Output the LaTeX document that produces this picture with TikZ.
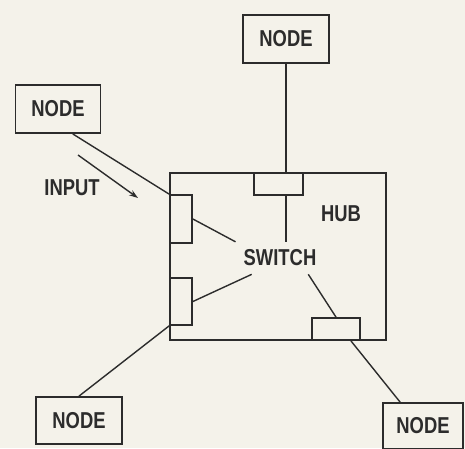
\documentclass[tikz,border=0pt]{standalone}
\usepackage{fontspec}
\setmainfont{Liberation Sans}[FakeStretch=0.8]
\usetikzlibrary{arrows.meta,positioning,calc}
\definecolor{PaperBg}{HTML}{F4F2EA}
\definecolor{InkGray}{HTML}{2C2C2C}
\tikzset{
  NB/.style={rectangle,draw=InkGray,line width=1.8pt,
             minimum width=86pt,minimum height=48pt,
             text=InkGray,font=\fontsize{23}{25}\selectfont\bfseries},
  port/.style={rectangle,draw=InkGray,line width=1.8pt,inner sep=0pt},
  lnk/.style={draw=InkGray,line width=1.4pt},
  arr/.style={-{Stealth[length=9pt,width=6pt]},draw=InkGray,line width=1.4pt}
}
\begin{document}
\begin{tikzpicture}[x=1pt,y=-1pt,
  every node/.style={font=\fontsize{23}{25}\selectfont\bfseries,text=InkGray}]
  \fill[PaperBg] (0,0) rectangle (465,448);
  \useasboundingbox (0,0) rectangle (465,448);

  % hub and its ports
  \node[rectangle,draw=InkGray,line width=1.8pt,minimum width=216pt,minimum height=167pt] (hub) at (278,256.5) {};
  \node[port,minimum width=49pt,minimum height=22pt] (ptop) at (278.5,184) {};
  \node[port,minimum width=22pt,minimum height=48pt] (pl1) at (181,219) {};
  \node[port,minimum width=22pt,minimum height=47pt] (pl2) at (181,301.5) {};
  \node[port,minimum width=48pt,minimum height=22pt] (pbr) at (336,329) {};
  \node[inner xsep=8pt,inner ysep=8pt] (sw) at (280,258) {SWITCH};
  \node (hublbl) at (341,214) {HUB};

  % outer nodes
  \node[NB] (ntop) at (286,39) {NODE};
  \node[NB,minimum width=85pt] (nleft) at (58,109) {NODE};
  \node[NB,minimum height=47pt] (nbl) at (79,420.5) {NODE};
  \node[NB,minimum width=80pt,minimum height=46pt] (nbr) at (423,426) {NODE};
  \node (inlbl) at (72,188) {INPUT};
  \coordinate (inA) at (78,155);
  \coordinate (inB) at (138,198);

  \draw[lnk] (ntop.south) -- (ntop.south |- ptop.north);
  \draw[lnk] (ptop.south -| ntop.south) -- (sw.north -| ntop.south);
  \draw[lnk] ($(nleft.south west)!0.67!(nleft.south east)$) -- (pl1.north west);
  \draw[lnk] (pl1.east) -- (sw.160);
  \draw[lnk] (pl2.east) -- (sw.210);
  \draw[lnk] (nbl.north) -- (pl2.south west);
  \draw[lnk] (sw.-30) -- (pbr.north);
  \draw[lnk] ($(pbr.south west)!0.8!(pbr.south east)$) -- ($(nbr.north west)!0.22!(nbr.north east)$);
  \draw[arr] (inA) -- (inB);
\end{tikzpicture}
\end{document}
